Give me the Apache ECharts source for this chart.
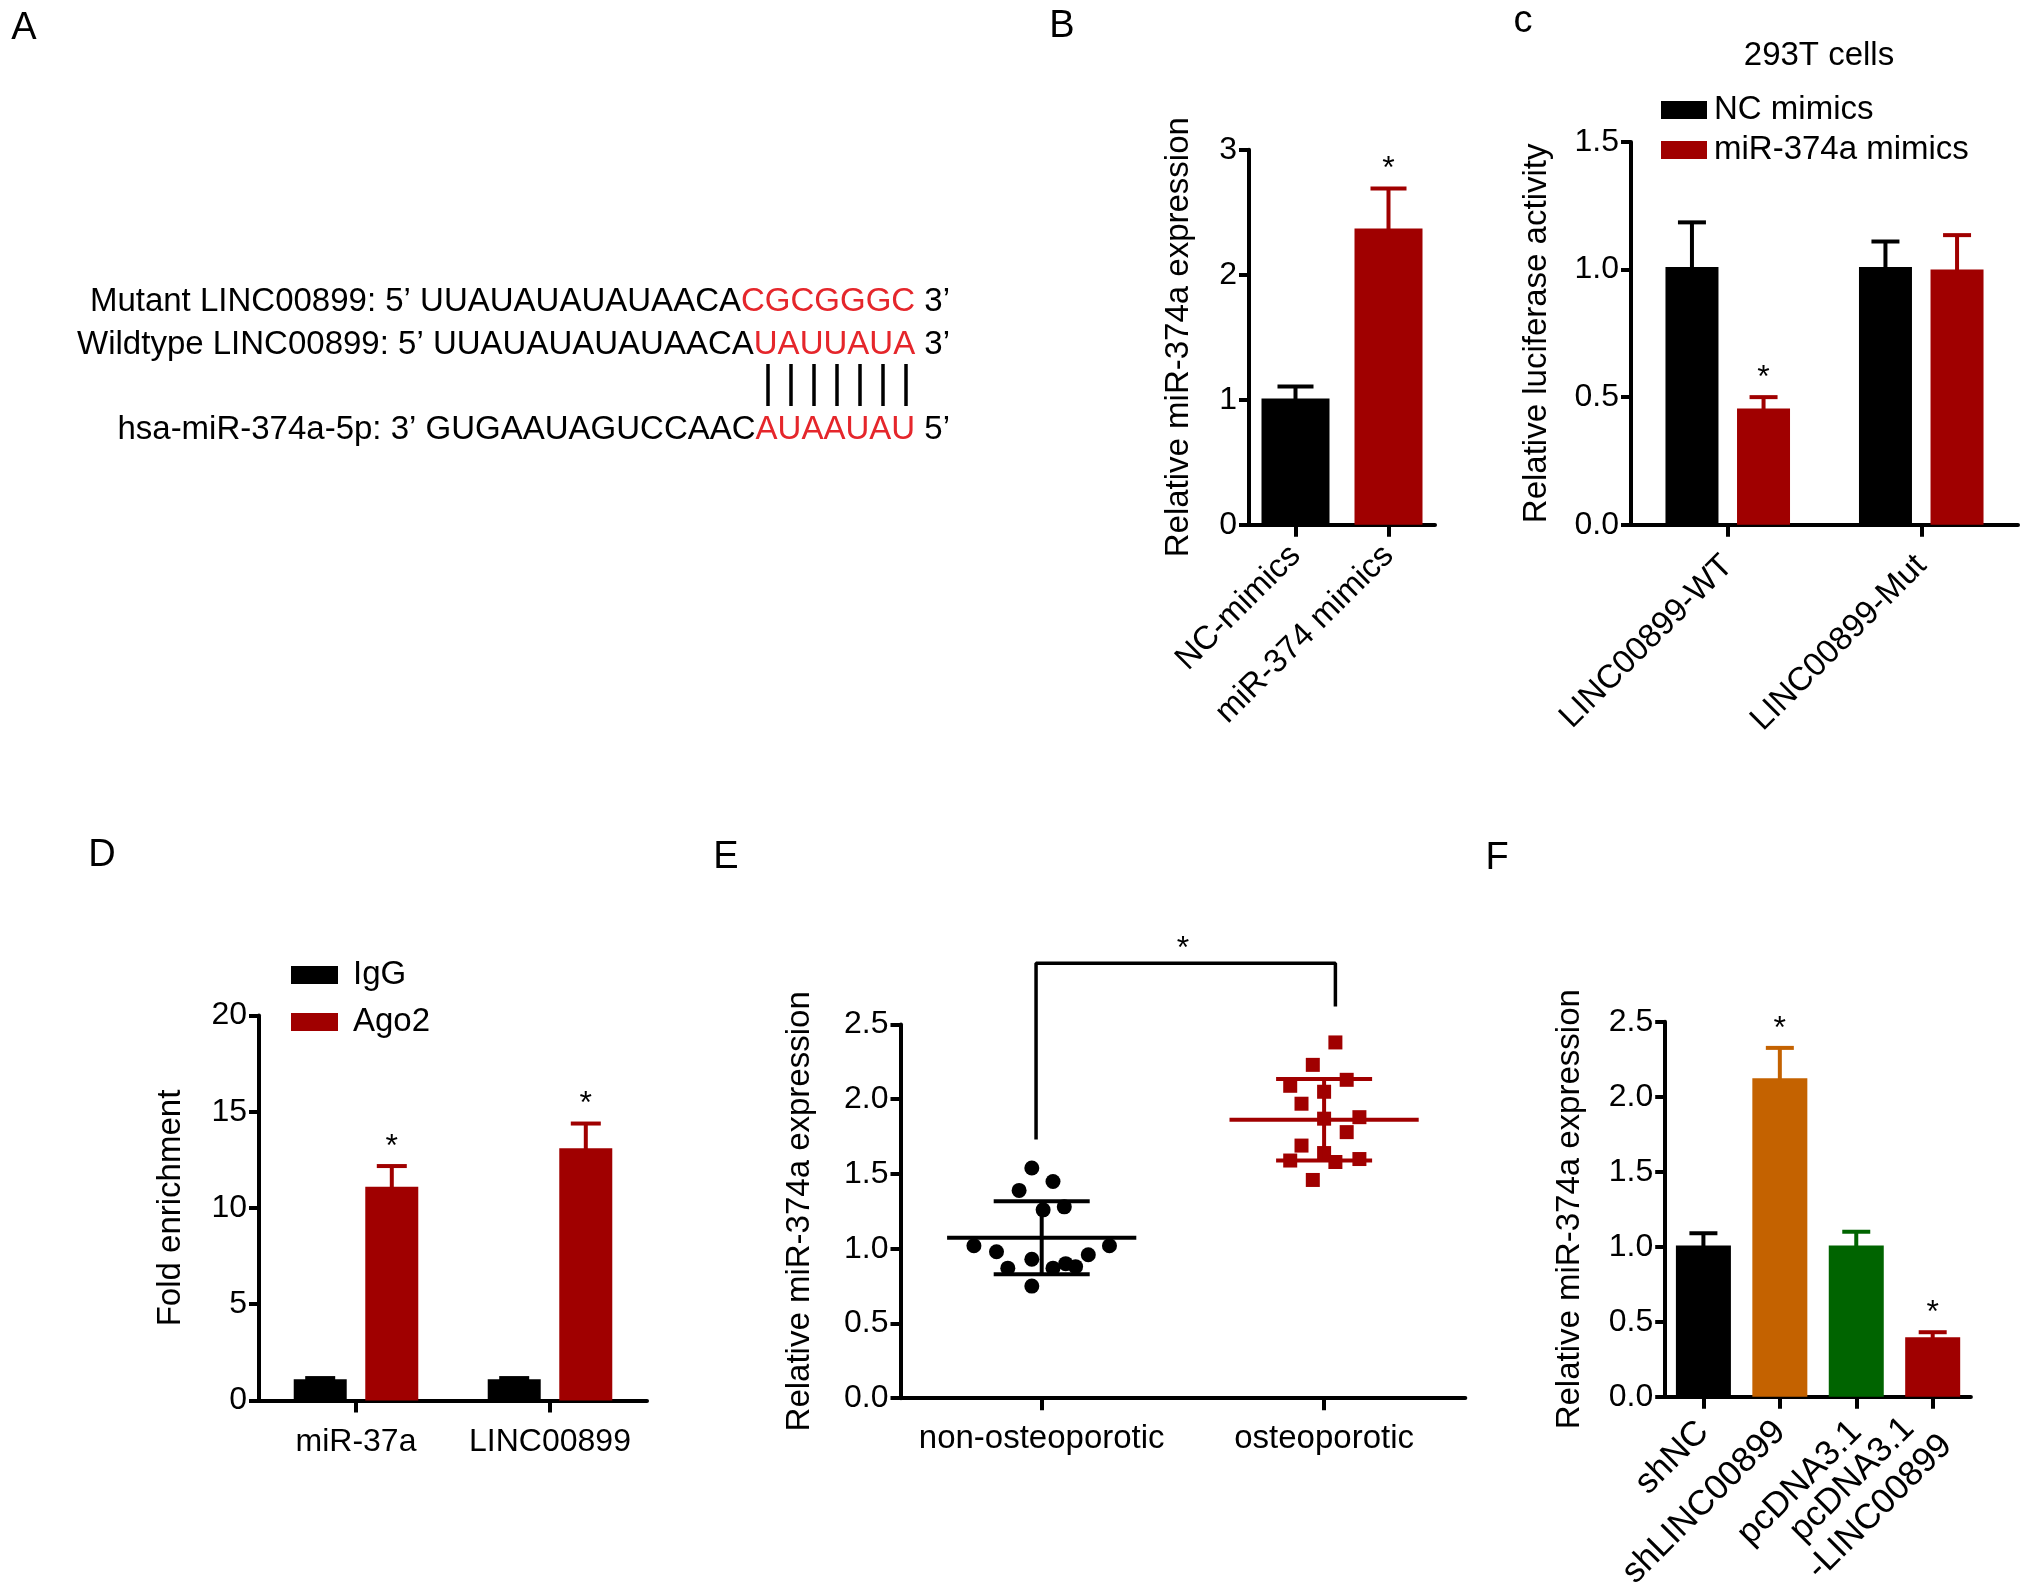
<!DOCTYPE html>
<html>
<head>
<meta charset="utf-8">
<title>LINC00899 / miR-374a</title>
<script src="https://cdn.jsdelivr.net/npm/echarts@6/dist/echarts.min.js"></script>
<style>
html, body { margin: 0; padding: 0; background: #fff; }
#main { width: 2031px; height: 1585px; }
</style>
</head>
<body>
<div id="main"></div>
<script>
// ---- values ----
var bCategories = ['NC-mimics', 'miR-374 mimics'];
var bMeans = [1.01, 2.37];
var bErrTops = [1.105, 2.69];
var bSig = [0, 1];
var bYTicks = [0, 1, 2, 3];

var cCategories = ['LINC00899-WT', 'LINC00899-Mut'];
var cSeriesNames = ['NC mimics', 'miR-374a mimics'];
var cNcMeans = [1.01, 1.01];
var cNcErrTops = [1.185, 1.11];
var cMirMeans = [0.455, 1.0];
var cMirErrTops = [0.50, 1.135];
var cMirSig = [1, 0];
var cYTicks = [0, 0.5, 1.0, 1.5];

var dCategories = ['miR-37a', 'LINC00899'];
var dSeriesNames = ['IgG', 'Ago2'];
var dIggMeans = [1.1, 1.1];
var dIggErrTops = [1.16, 1.16];
var dAgoMeans = [11.1, 13.1];
var dAgoErrTops = [12.18, 14.39];
var dAgoSig = [1, 1];
var dYTicks = [0, 5, 10, 15, 20];

var eCategories = ['non-osteoporotic', 'osteoporotic'];
var eNonX = [0.93, 0.84, 1.08, 1.01, 1.16, 0.52, 0.68, 0.93, 0.76, 1.08, 1.17, 1.24, 1.33, 1.48, 0.93];
var eNonY = [1.54, 1.39, 1.45, 1.26, 1.28, 1.02, 0.98, 0.93, 0.87, 0.87, 0.90, 0.88, 0.96, 1.02, 0.75];
var eOstX = [3.08, 2.92, 3.16, 2.76, 3.00, 2.84, 3.25, 3.00, 3.16, 2.84, 3.00, 2.76, 3.08, 3.25, 2.92];
var eOstY = [2.38, 2.23, 2.13, 2.09, 2.05, 1.97, 1.88, 1.87, 1.78, 1.69, 1.64, 1.59, 1.58, 1.60, 1.46];
var eYTicks = [0, 0.5, 1.0, 1.5, 2.0, 2.5];
var eBracketX = [0.96, 0.96, 3.08, 3.08];
var eBracketY = [1.73, 2.91, 2.91, 2.62];
var eStar = [2.0, 2.91];

var fCategories = ['shNC', 'shLINC00899', 'pcDNA3.1', 'pcDNA3.1\n-LINC00899'];
var fMeans = [1.008, 2.123, 1.008, 0.397];
var fErrTops = [1.09, 2.326, 1.10, 0.43];
var fSig = [0, 1, 0, 1];
var fYTicks = [0, 0.5, 1.0, 1.5, 2.0, 2.5];

var seqRows = [
    { prefix: 'Mutant LINC00899: 5\u2019 UUAUAUAUAUAACA', site: 'CGCGGGC', suffix: ' 3\u2019' },
    { prefix: 'Wildtype LINC00899: 5\u2019 UUAUAUAUAUAACA', site: 'UAUUAUA', suffix: ' 3\u2019' },
    { prefix: 'hsa-miR-374a-5p: 3\u2019 GUGAAUAGUCCAAC', site: 'AUAAUAU', suffix: ' 5\u2019' }
];

// ---- styles ----
var FONT = '"Liberation Sans", Arial, sans-serif';
var BLACK = '#000000';
var DARK_RED = '#a00000';
var ORANGE = '#c46200';
var GREEN = '#006400';
var SEQ_RED = '#e5262b';
var fColors = [BLACK, ORANGE, GREEN, DARK_RED];
var LW = 4;
var PAIR_OFFSET = 35.8;

var myChart = echarts.init(document.getElementById('main'), null, { renderer: 'canvas' });

function yAxisCfg(grid, ticks, name, gap, decimals) {
    return {
        type: 'value',
        gridIndex: grid,
        min: ticks[0],
        max: ticks[ticks.length - 1],
        interval: ticks[1] - ticks[0],
        name: name,
        nameLocation: 'middle',
        nameGap: gap,
        nameTextStyle: { fontSize: 33, fontFamily: FONT, color: BLACK },
        axisLine: { show: true, lineStyle: { color: BLACK, width: LW } },
        axisTick: { show: true, length: 10, lineStyle: { color: BLACK, width: LW } },
        axisLabel: {
            margin: 12, fontSize: 32, fontFamily: FONT, color: BLACK,
            formatter: function (v) { return v.toFixed(decimals); }
        },
        splitLine: { show: false }
    };
}

function catAxisCfg(grid, cats, rotate, margin, size) {
    return {
        type: 'category',
        gridIndex: grid,
        data: cats,
        axisLine: { show: true, lineStyle: { color: BLACK, width: LW } },
        axisTick: { show: true, alignWithLabel: true, length: 12, lineStyle: { color: BLACK, width: LW } },
        axisLabel: {
            interval: 0, rotate: rotate, margin: margin,
            fontSize: size, fontFamily: FONT, color: BLACK,
            formatter: function (v) {
                return v.split('\n').map(function (l) { return '{c|' + l + '}'; }).join('\n');
            },
            rich: { c: { align: 'center', fontSize: size, fontFamily: FONT, color: BLACK, lineHeight: size + 4 } }
        },
        splitLine: { show: false }
    };
}

// error bar (upward only) with optional significance star
function errRender(offset, colors, capW) {
    return function (params, api) {
        var x = api.value(0), m = api.value(1), t = api.value(2), sig = api.value(3);
        var p0 = api.coord([x, m]);
        var p1 = api.coord([x, t]);
        var cx = p0[0] + offset;
        var col = colors[params.dataIndex % colors.length];
        var kids = [
            { type: 'line', shape: { x1: cx, y1: p0[1] + 1, x2: cx, y2: p1[1] }, style: { stroke: col, lineWidth: LW } },
            { type: 'line', shape: { x1: cx - capW / 2, y1: p1[1], x2: cx + capW / 2, y2: p1[1] }, style: { stroke: col, lineWidth: LW } }
        ];
        if (sig) {
            kids.push({
                type: 'text', x: cx, y: p1[1] - 3,
                style: { text: '*', fontSize: 32, fontFamily: FONT, fill: BLACK, align: 'center', verticalAlign: 'bottom' }
            });
        }
        return { type: 'group', children: kids };
    };
}

function errData(means, tops, sig) {
    return means.map(function (m, i) { return [i, m, tops[i], sig ? sig[i] : 0]; });
}

function mean(a) { return a.reduce(function (s, v) { return s + v; }, 0) / a.length; }
function sd(a) {
    var mu = mean(a);
    return Math.sqrt(a.reduce(function (s, v) { return s + (v - mu) * (v - mu); }, 0) / (a.length - 1));
}

// mean line with SD whiskers for the scatter panel
var eStats = [[1, mean(eNonY), sd(eNonY)], [3, mean(eOstY), sd(eOstY)]];
var eStatColors = [BLACK, DARK_RED];

function statRender(params, api) {
    var c = api.value(0), mu = api.value(1), s = api.value(2);
    var col = eStatColors[params.dataIndex];
    var a = api.coord([c - 0.67, mu]), b = api.coord([c + 0.67, mu]);
    var up = api.coord([c, mu + s]), dn = api.coord([c, mu - s]);
    var cl = api.coord([c - 0.34, mu + s]), cr = api.coord([c + 0.34, mu + s]);
    var dl = api.coord([c - 0.34, mu - s]), dr = api.coord([c + 0.34, mu - s]);
    var st = { stroke: col, lineWidth: LW };
    return {
        type: 'group',
        children: [
            { type: 'line', shape: { x1: a[0], y1: a[1], x2: b[0], y2: b[1] }, style: st },
            { type: 'line', shape: { x1: up[0], y1: up[1], x2: dn[0], y2: dn[1] }, style: st },
            { type: 'line', shape: { x1: cl[0], y1: cl[1], x2: cr[0], y2: cr[1] }, style: st },
            { type: 'line', shape: { x1: dl[0], y1: dl[1], x2: dr[0], y2: dr[1] }, style: st }
        ]
    };
}

function starRender(params, api) {
    var p = api.coord([api.value(0), api.value(1)]);
    return {
        type: 'text', x: p[0], y: p[1] + 2,
        style: { text: '*', fontSize: 32, fontFamily: FONT, fill: BLACK, align: 'center', verticalAlign: 'bottom' }
    };
}

function zip(xs, ys) { return xs.map(function (x, i) { return [x, ys[i]]; }); }

// ---- graphic: panel letters, sequence alignment, titles ----
var graphics = [];
[['A', 24, 29], ['B', 1062, 27], ['c', 1523, 22], ['D', 102, 856], ['E', 726, 858], ['F', 1497, 859]].forEach(function (p) {
    graphics.push({
        type: 'text', x: p[1], y: p[2],
        style: { text: p[0], fontSize: 38, fontFamily: FONT, fill: BLACK, align: 'center', verticalAlign: 'middle' }
    });
});
var seqY = [302, 345, 430];
seqRows.forEach(function (r, i) {
    graphics.push({
        type: 'text', x: 950, y: seqY[i],
        style: {
            text: '{k|' + r.prefix + '}{r|' + r.site + '}{k|' + r.suffix + '}',
            rich: {
                k: { fill: BLACK, fontSize: 33, fontFamily: FONT },
                r: { fill: SEQ_RED, fontSize: 33, fontFamily: FONT }
            },
            fontSize: 33, fontFamily: FONT, align: 'right', verticalAlign: 'middle'
        }
    });
});
for (var k = 0; k < 7; k++) {
    graphics.push({
        type: 'line',
        shape: { x1: 768 + 23 * k, y1: 364, x2: 768 + 23 * k, y2: 406 },
        style: { stroke: BLACK, lineWidth: 3.5 }
    });
}
graphics.push({
    type: 'text', x: 1819, y: 56,
    style: { text: '293T cells', fontSize: 33, fontFamily: FONT, fill: BLACK, align: 'center', verticalAlign: 'middle' }
});

var option = {
    animation: false,
    backgroundColor: '#ffffff',
    textStyle: { fontFamily: FONT },
    graphic: graphics,
    legend: [
        {
            data: cSeriesNames, orient: 'vertical', left: 1656, top: 88,
            icon: 'rect', itemWidth: 46, itemHeight: 18, itemGap: 6, selectedMode: false,
            textStyle: { fontSize: 33, fontFamily: FONT, color: BLACK, lineHeight: 34, padding: [0, 0, 0, 2] }
        },
        {
            data: dSeriesNames, orient: 'vertical', left: 286, top: 953,
            icon: 'rect', itemWidth: 47, itemHeight: 18, itemGap: 13, selectedMode: false,
            textStyle: { fontSize: 33, fontFamily: FONT, color: BLACK, lineHeight: 34, padding: [0, 0, 0, 10] }
        }
    ],
    grid: [
        { left: 1249, top: 149.7, width: 186, height: 375, outerBoundsMode: 'none' },
        { left: 1631, top: 142, width: 387, height: 382.7, outerBoundsMode: 'none' },
        { left: 259, top: 1015.6, width: 388, height: 384.8, outerBoundsMode: 'none' },
        { left: 900.5, top: 1024.5, width: 564.8, height: 373.7, outerBoundsMode: 'none' },
        { left: 1665.2, top: 1021.8, width: 305.7, height: 374.9, outerBoundsMode: 'none' }
    ],
    xAxis: [
        catAxisCfg(0, bCategories, 45, 26, 33),
        catAxisCfg(1, cCategories, 45, 36, 33),
        catAxisCfg(2, dCategories, 0, 24, 32),
        {
            type: 'value', gridIndex: 3, min: 0, max: 4,
            axisLine: { show: true, onZero: false, lineStyle: { color: BLACK, width: LW } },
            axisTick: { show: true, customValues: [1, 3], length: 12, lineStyle: { color: BLACK, width: LW } },
            axisLabel: {
                customValues: [1, 3], margin: 24, fontSize: 33, fontFamily: FONT, color: BLACK,
                formatter: function (v) { return eCategories[Math.round((v - 1) / 2)]; }
            },
            splitLine: { show: false }
        },
        catAxisCfg(4, fCategories, 45, 30, 35)
    ],
    yAxis: [
        yAxisCfg(0, bYTicks, 'Relative miR-374a expression', 54, 0),
        yAxisCfg(1, cYTicks, 'Relative luciferase activity', 78, 1),
        yAxisCfg(2, dYTicks, 'Fold enrichment', 72, 0),
        yAxisCfg(3, eYTicks, 'Relative miR-374a expression', 84, 1),
        yAxisCfg(4, fYTicks, 'Relative miR-374a expression', 79, 1)
    ],
    series: [
        // B
        {
            name: 'bBars', type: 'bar', xAxisIndex: 0, yAxisIndex: 0, barWidth: 68,
            data: bMeans.map(function (v, i) { return { value: v, itemStyle: { color: [BLACK, DARK_RED][i] } }; })
        },
        {
            name: 'bErr', type: 'custom', xAxisIndex: 0, yAxisIndex: 0, z: 3,
            renderItem: errRender(0, [BLACK, DARK_RED], 36), data: errData(bMeans, bErrTops, bSig)
        },
        // C
        {
            name: cSeriesNames[0], type: 'bar', xAxisIndex: 1, yAxisIndex: 1, barWidth: 53, barGap: '35%',
            itemStyle: { color: BLACK }, data: cNcMeans
        },
        {
            name: cSeriesNames[1], type: 'bar', xAxisIndex: 1, yAxisIndex: 1, barWidth: 53, barGap: '35%',
            itemStyle: { color: DARK_RED }, data: cMirMeans
        },
        {
            name: 'cNcErr', type: 'custom', xAxisIndex: 1, yAxisIndex: 1, z: 3,
            renderItem: errRender(-PAIR_OFFSET, [BLACK], 28), data: errData(cNcMeans, cNcErrTops)
        },
        {
            name: 'cMirErr', type: 'custom', xAxisIndex: 1, yAxisIndex: 1, z: 3,
            renderItem: errRender(PAIR_OFFSET, [DARK_RED], 28), data: errData(cMirMeans, cMirErrTops, cMirSig)
        },
        // D
        {
            name: dSeriesNames[0], type: 'bar', xAxisIndex: 2, yAxisIndex: 2, barWidth: 53, barGap: '35%',
            itemStyle: { color: BLACK }, data: dIggMeans
        },
        {
            name: dSeriesNames[1], type: 'bar', xAxisIndex: 2, yAxisIndex: 2, barWidth: 53, barGap: '35%',
            itemStyle: { color: DARK_RED }, data: dAgoMeans
        },
        {
            name: 'dIggErr', type: 'custom', xAxisIndex: 2, yAxisIndex: 2, z: 3,
            renderItem: errRender(-PAIR_OFFSET, [BLACK], 30), data: errData(dIggMeans, dIggErrTops)
        },
        {
            name: 'dAgoErr', type: 'custom', xAxisIndex: 2, yAxisIndex: 2, z: 3,
            renderItem: errRender(PAIR_OFFSET, [DARK_RED], 30), data: errData(dAgoMeans, dAgoErrTops, dAgoSig)
        },
        // E
        {
            name: 'eNon', type: 'scatter', xAxisIndex: 3, yAxisIndex: 3, symbol: 'circle', symbolSize: 15,
            itemStyle: { color: BLACK, opacity: 1 }, data: zip(eNonX, eNonY)
        },
        {
            name: 'eOst', type: 'scatter', xAxisIndex: 3, yAxisIndex: 3, symbol: 'rect', symbolSize: 14,
            itemStyle: { color: DARK_RED, opacity: 1 }, data: zip(eOstX, eOstY)
        },
        {
            name: 'eStats', type: 'custom', xAxisIndex: 3, yAxisIndex: 3, z: 4,
            renderItem: statRender, data: eStats
        },
        {
            name: 'eBracket', type: 'line', xAxisIndex: 3, yAxisIndex: 3, clip: false,
            symbol: 'none', lineStyle: { color: BLACK, width: 3.5 }, data: zip(eBracketX, eBracketY)
        },
        {
            name: 'eStar', type: 'custom', xAxisIndex: 3, yAxisIndex: 3, clip: false,
            renderItem: starRender, data: [eStar]
        },
        // F
        {
            name: 'fBars', type: 'bar', xAxisIndex: 4, yAxisIndex: 4, barWidth: 55,
            data: fMeans.map(function (v, i) { return { value: v, itemStyle: { color: fColors[i] } }; })
        },
        {
            name: 'fErr', type: 'custom', xAxisIndex: 4, yAxisIndex: 4, z: 3,
            renderItem: errRender(0, fColors, 28), data: errData(fMeans, fErrTops, fSig)
        }
    ]
};
myChart.setOption(option);
</script>
</body>
</html>
